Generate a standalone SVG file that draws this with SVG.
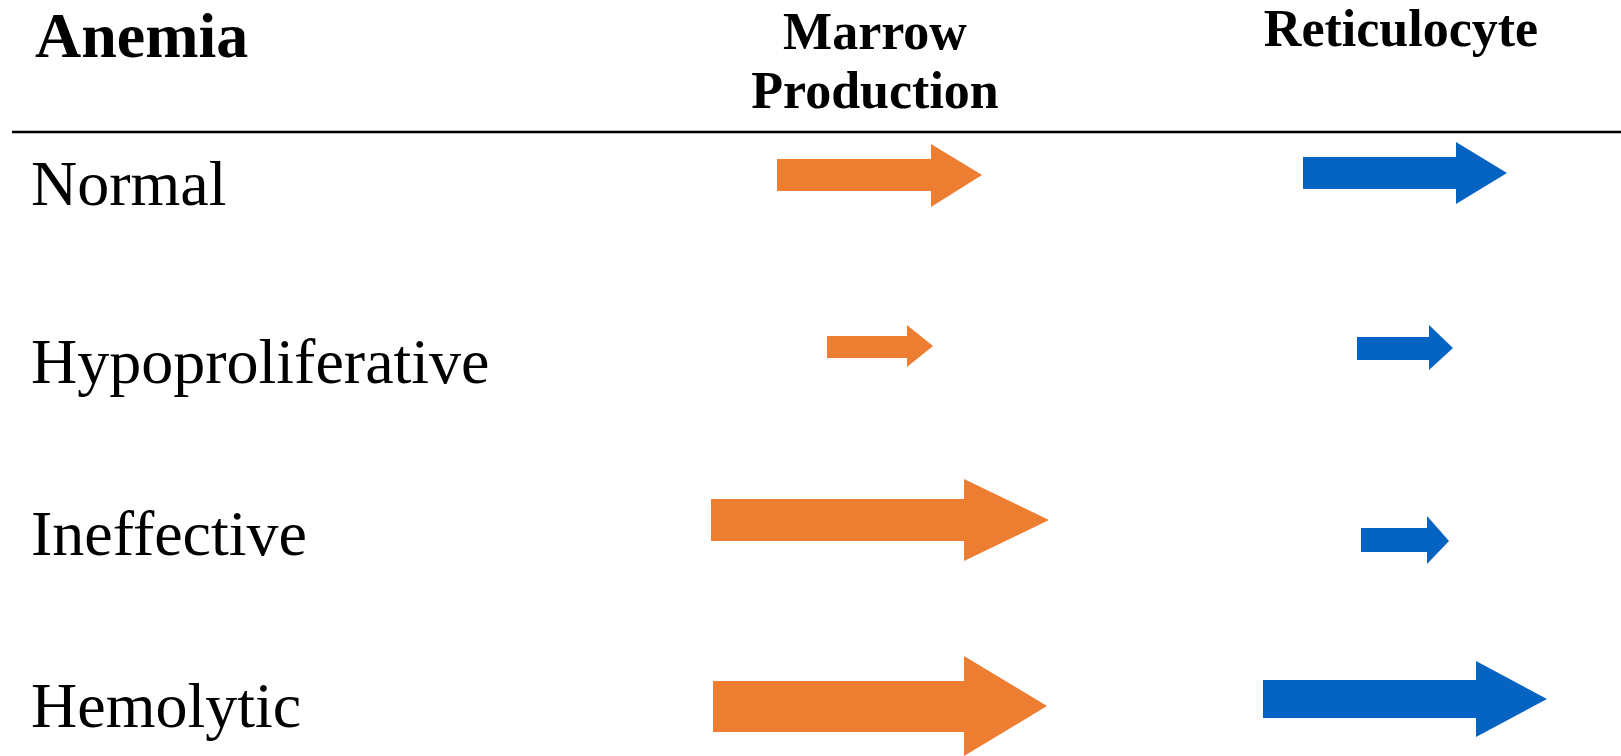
<svg xmlns="http://www.w3.org/2000/svg" width="1621" height="756" viewBox="0 0 1621 756">
<style>
.hdr{font-family:"Liberation Serif","Times New Roman",serif;font-weight:bold;fill:#000}
.lbl{font-family:"Liberation Serif","Times New Roman",serif;font-size:64px;fill:#000}
.or{fill:#ED7D31}
.bl{fill:#0563C1}
</style>
<rect width="1621" height="756" fill="#fff"/>
<g id="header">
<text class="hdr" x="35" y="57" font-size="64">Anemia</text>
<text class="hdr" x="875" y="49" font-size="52" text-anchor="middle">Marrow</text>
<text class="hdr" x="875" y="108" font-size="52" text-anchor="middle">Production</text>
<text class="hdr" x="1401" y="46" font-size="52" text-anchor="middle">Reticulocyte</text>
<line x1="12" y1="132" x2="1621" y2="132" stroke="#000" stroke-width="2.5"/>
</g>
<g id="row-normal">
<text class="lbl" x="31" y="205">Normal</text>
</g>
<g id="row-hypo">
<text class="lbl" x="31" y="383">Hypoproliferative</text>
</g>
<g id="row-ineffective">
<text class="lbl" x="31" y="555">Ineffective</text>
</g>
<g id="row-hemolytic">
<text class="lbl" x="31" y="727">Hemolytic</text>
</g>
<g id="connectors">
<polygon class="or" points="777,159 931,159 931,144 982,175 931,207 931,191 777,191"/>
<polygon class="bl" points="1303,157 1456,157 1456,142 1507,173 1456,204 1456,189 1303,189"/>
<polygon class="or" points="827,336 907,336 907,325 933,346 907,367 907,358 827,358"/>
<polygon class="bl" points="1357,337 1429,337 1429,325 1453,348 1429,370 1429,360 1357,360"/>
<polygon class="or" points="711,499 964,499 964,479 1049,520 964,561 964,541 711,541"/>
<polygon class="bl" points="1361,528 1427,528 1427,516 1449,541 1427,564 1427,552 1361,552"/>
<polygon class="or" points="713,681 964,681 964,656 1047,706 964,756 964,732 713,732"/>
<polygon class="bl" points="1263,680 1476,680 1476,661 1547,699 1476,737 1476,718 1263,718"/>
</g>
</svg>
